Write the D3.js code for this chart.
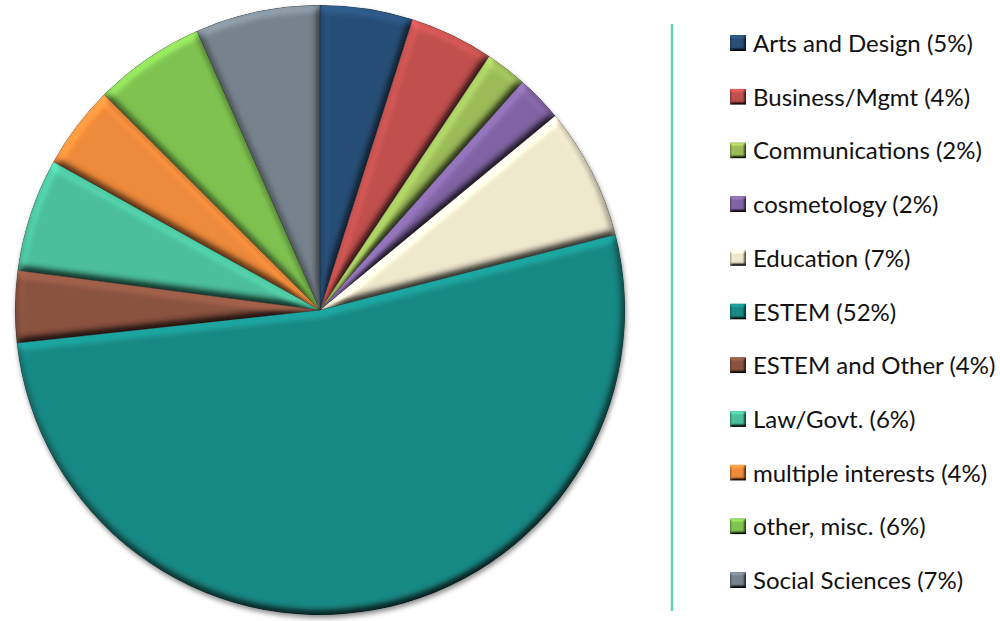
<!DOCTYPE html>
<html>
<head>
<meta charset="utf-8">
<script src="https://cdn.jsdelivr.net/npm/d3@7"></script>
<style>
  html, body { margin: 0; padding: 0; background: #fff; }
  svg { display: block; }
  .legend text { font-family: Lato, "Noto Sans", sans-serif; font-size: 24px; fill: #111; }
</style>
</head>
<body>
<svg id="chart" width="1000" height="621"></svg>
<script>
// Interest areas and their share of respondents (percent)
const categories = [
  "Arts and Design", "Business/Mgmt", "Communications", "cosmetology",
  "Education", "ESTEM", "ESTEM and Other", "Law/Govt.",
  "multiple interests", "other, misc.", "Social Sciences"
];
const shares = [4.9, 4.45, 2.2, 2.45, 7.0, 52.2, 3.8, 6.0, 4.4, 5.9, 6.6];
const colors = [
  "#284e76", "#c0504d", "#9bbb59", "#8064a2",
  "#eee8cd", "#198985", "#8a5240", "#4bbf9b",
  "#ee8a3a", "#7fc250", "#76828c"
];

const svg = d3.select("#chart");
const cx = 320, cy = 310, radius = 305;

// Filters: soft drop shadow for the whole pie, bevel lighting for each slice
const defs = svg.append("defs");

const shadow = defs.append("filter").attr("id", "pieShadow")
  .attr("x", "-10%").attr("y", "-10%").attr("width", "120%").attr("height", "120%");
shadow.append("feGaussianBlur").attr("in", "SourceAlpha").attr("stdDeviation", 2.5).attr("result", "sb");
shadow.append("feOffset").attr("in", "sb").attr("dx", 1).attr("dy", 3).attr("result", "so");
shadow.append("feComponentTransfer").attr("in", "so").attr("result", "sf")
  .append("feFuncA").attr("type", "linear").attr("slope", 0.45);
const sm = shadow.append("feMerge");
sm.append("feMergeNode").attr("in", "sf");
sm.append("feMergeNode").attr("in", "SourceGraphic");

function bevel(id, blur, scale) {
  const f = defs.append("filter").attr("id", id)
    .attr("x", "-5%").attr("y", "-5%").attr("width", "110%").attr("height", "110%")
    .attr("color-interpolation-filters", "sRGB");
  f.append("feGaussianBlur").attr("in", "SourceAlpha").attr("stdDeviation", blur).attr("result", "b");
  f.append("feDiffuseLighting").attr("in", "b").attr("surfaceScale", scale)
    .attr("diffuseConstant", 1).attr("lighting-color", "#fff").attr("result", "d")
    .append("feDistantLight").attr("azimuth", 250).attr("elevation", 55);
  f.append("feComposite").attr("in", "SourceGraphic").attr("in2", "d")
    .attr("operator", "arithmetic").attr("k1", 1.22).attr("k2", 0).attr("k3", 0).attr("k4", 0)
    .attr("result", "lit");
  f.append("feComposite").attr("in", "lit").attr("in2", "SourceAlpha").attr("operator", "in");
}
bevel("sliceBevel", 4, 5);
bevel("keyBevel", 1.6, 3);

// Pie
const pie = d3.pie().sort(null).value(d => d.value);
const arcs = pie(categories.map((c, i) => ({ name: c, value: shares[i], color: colors[i] })));
const arc = d3.arc().innerRadius(0).outerRadius(radius);

const pieG = svg.append("g")
  .attr("transform", `translate(${cx},${cy})`)
  .attr("filter", "url(#pieShadow)");

pieG.selectAll("path")
  .data(arcs)
  .join("path")
  .attr("d", arc)
  .attr("fill", d => d.data.color)
  .attr("stroke", "rgba(0,0,0,0.35)")
  .attr("stroke-width", 0.8)
  .attr("filter", "url(#sliceBevel)");

// Legend separator
svg.append("line")
  .attr("x1", 672).attr("x2", 672).attr("y1", 24).attr("y2", 611)
  .attr("stroke", "#5fd0b0").attr("stroke-width", 2.5);

// Legend
const rowY = d3.scalePoint().domain(categories).range([43, 580]);
const legend = svg.append("g").attr("class", "legend");
const rows = legend.selectAll("g")
  .data(arcs)
  .join("g")
  .attr("transform", d => `translate(730,${rowY(d.data.name)})`);

rows.append("rect")
  .attr("x", 0).attr("y", -8).attr("width", 16).attr("height", 16)
  .attr("fill", d => d.data.color)
  .attr("filter", "url(#keyBevel)");

rows.append("text")
  .attr("x", 23).attr("y", 9)
  .text(d => `${d.data.name} (${Math.round(d.data.value)}%)`);
</script>
</body>
</html>
